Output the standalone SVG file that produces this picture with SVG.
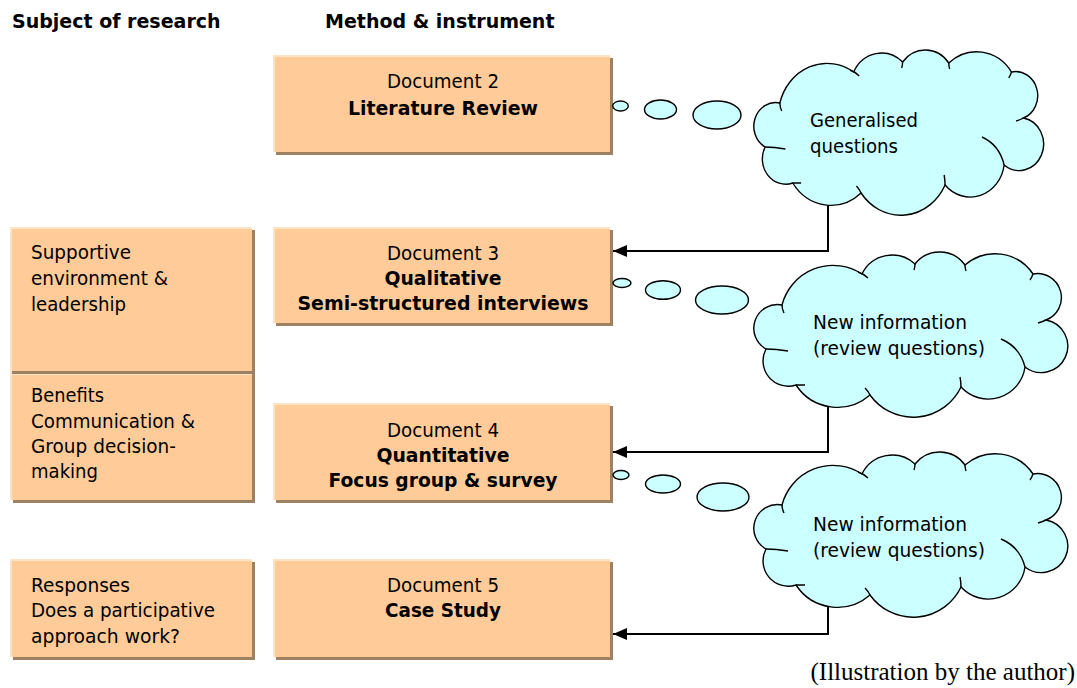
<svg xmlns="http://www.w3.org/2000/svg" xmlns:xlink="http://www.w3.org/1999/xlink" width="1077" height="688" viewBox="0 0 1077 688">
<style>
.box{fill:#FFCC99}
.shd{fill:#9E8062}
.hl{fill:#FFE3C6}
.t{font-family:"DejaVu Sans","Liberation Sans",sans-serif;font-size:20px;fill:#000}
.b{font-weight:bold}
.m{text-anchor:middle}
.h{font-family:"DejaVu Sans","Liberation Sans",sans-serif;font-size:19px;font-weight:bold;fill:#000}
.cl{fill:#CCFFFF;stroke:#000;stroke-width:1.4;vector-effect:non-scaling-stroke}
.cr{fill:none;stroke:#000;stroke-width:1.4;vector-effect:non-scaling-stroke}
.bub{fill:#CCFFFF;stroke:#000;stroke-width:1.4}
.ln{fill:none;stroke:#000;stroke-width:2}
</style>
<defs>
<marker id="ah" viewBox="0 0 14 12" refX="14" refY="6" markerWidth="14" markerHeight="12" markerUnits="userSpaceOnUse" orient="auto">
<path d="M0,0 L14,6 L0,12 z" fill="#000"/>
</marker>
<g id="cloud">
<path class="cl" d="M28,53 A52.8,52.8 0 0 1 108,22 A33.6,33.6 0 0 1 161,12 A31.2,31.2 0 0 1 211,13 A45.7,45.7 0 0 1 279,22 A24,24 0 0 1 292,68 A26.5,26.5 0 1 1 271,115 A37,37 0 0 1 207,135 A53,53 0 0 1 116,143 A49.5,49.5 0 0 1 42,133 A25.3,25.3 0 0 1 12,97 A23.7,23.7 0 0 1 28,53 Z"/>
<path class="cr" d="M28,53 Q28,57 30,61 M104,20 Q110,22 114,26 M161,12 Q161,15 160,18 M211,13 Q211,16 212,19 M279,22 Q278,25 276,28 M292,68 Q288,70 284,71 M247,87 Q266,95 271,115 M207,135 Q207,130 206,125 M116,143 Q114,139 111,136 M42,133 Q47,133 51,133 M12,97 Q22,97 34,99"/>
</g>
</defs>
<rect width="1077" height="688" fill="#fff"/>

<g id="headers">
<text class="h" x="12" y="28">Subject of research</text>
<text class="h" x="325" y="28">Method &amp; instrument</text>
</g>

<g id="subject-supportive-benefits">
<rect class="shd" x="13" y="230" width="242" height="273"/>
<rect class="box" x="10" y="227" width="242" height="273"/>
<path class="hl" d="M10,227 h242 v2 h-240 v271 h-2 z"/>
<rect class="shd" x="12" y="371" width="240" height="3"/>
<rect class="hl" x="12" y="374" width="240" height="1"/>
<text class="t" x="31" y="259" textLength="100" lengthAdjust="spacingAndGlyphs">Supportive</text>
<text class="t" x="31" y="285" textLength="137" lengthAdjust="spacingAndGlyphs">environment &amp;</text>
<text class="t" x="31" y="311" textLength="95" lengthAdjust="spacingAndGlyphs">leadership</text>
<text class="t" x="31" y="402" textLength="73" lengthAdjust="spacingAndGlyphs">Benefits</text>
<text class="t" x="31" y="428" textLength="164" lengthAdjust="spacingAndGlyphs">Communication &amp;</text>
<text class="t" x="31" y="453" textLength="145" lengthAdjust="spacingAndGlyphs">Group decision-</text>
<text class="t" x="31" y="478" textLength="67" lengthAdjust="spacingAndGlyphs">making</text>
</g>

<g id="subject-responses">
<rect class="shd" x="13" y="562" width="242" height="98"/>
<rect class="box" x="10" y="559" width="242" height="98"/>
<path class="hl" d="M10,559 h242 v2 h-240 v96 h-2 z"/>
<text class="t" x="31" y="592" textLength="99" lengthAdjust="spacingAndGlyphs">Responses</text>
<text class="t" x="31" y="617" textLength="184" lengthAdjust="spacingAndGlyphs">Does a participative</text>
<text class="t" x="31" y="643" textLength="149" lengthAdjust="spacingAndGlyphs">approach work?</text>
</g>

<g id="doc2">
<rect class="shd" x="276" y="58" width="337" height="97"/>
<rect class="box" x="273" y="55" width="337" height="97"/>
<path class="hl" d="M273,55 h337 v2 h-335 v95 h-2 z"/>
<text class="t m" x="443" y="88" textLength="112" lengthAdjust="spacingAndGlyphs">Document 2</text>
<text class="t m b" x="443" y="115" textLength="190" lengthAdjust="spacingAndGlyphs">Literature Review</text>
</g>

<g id="doc3">
<rect class="shd" x="276" y="230" width="337" height="96"/>
<rect class="box" x="273" y="227" width="337" height="96"/>
<path class="hl" d="M273,227 h337 v2 h-335 v94 h-2 z"/>
<text class="t m" x="443" y="260" textLength="112" lengthAdjust="spacingAndGlyphs">Document 3</text>
<text class="t m b" x="443" y="285" textLength="117" lengthAdjust="spacingAndGlyphs">Qualitative</text>
<text class="t m b" x="443" y="310" textLength="291" lengthAdjust="spacingAndGlyphs">Semi-structured interviews</text>
</g>

<g id="doc4">
<rect class="shd" x="276" y="406" width="337" height="97"/>
<rect class="box" x="273" y="403" width="337" height="97"/>
<path class="hl" d="M273,403 h337 v2 h-335 v95 h-2 z"/>
<text class="t m" x="443" y="437" textLength="112" lengthAdjust="spacingAndGlyphs">Document 4</text>
<text class="t m b" x="443" y="462" textLength="133" lengthAdjust="spacingAndGlyphs">Quantitative</text>
<text class="t m b" x="443" y="487" textLength="229" lengthAdjust="spacingAndGlyphs">Focus group &amp; survey</text>
</g>

<g id="doc5">
<rect class="shd" x="276" y="562" width="337" height="98"/>
<rect class="box" x="273" y="559" width="337" height="98"/>
<path class="hl" d="M273,559 h337 v2 h-335 v96 h-2 z"/>
<text class="t m" x="443" y="592" textLength="112" lengthAdjust="spacingAndGlyphs">Document 5</text>
<text class="t m b" x="443" y="617" textLength="116" lengthAdjust="spacingAndGlyphs">Case Study</text>
</g>

<g id="connectors">
<path class="ln" d="M828,200 V251 H613" marker-end="url(#ah)"/>
<path class="ln" d="M828,400 V452 H613" marker-end="url(#ah)"/>
<path class="ln" d="M828,605 V634 H613" marker-end="url(#ah)"/>
</g>

<g id="cloud1">
<ellipse class="bub" cx="620.5" cy="106" rx="7.8" ry="5"/>
<ellipse class="bub" cx="660.5" cy="109.5" rx="16" ry="9.5"/>
<ellipse class="bub" cx="717" cy="115" rx="24" ry="14"/>
<use xlink:href="#cloud" href="#cloud" transform="translate(754,50) scale(0.923,1)"/>
<text class="t" x="810" y="127" textLength="108" lengthAdjust="spacingAndGlyphs">Generalised</text>
<text class="t" x="810" y="153" textLength="88" lengthAdjust="spacingAndGlyphs">questions</text>
</g>

<g id="cloud2">
<ellipse class="bub" cx="622" cy="283" rx="9" ry="4.5"/>
<ellipse class="bub" cx="663" cy="290" rx="17.5" ry="9.3"/>
<ellipse class="bub" cx="722" cy="300" rx="26.5" ry="14"/>
<use xlink:href="#cloud" href="#cloud" transform="translate(754,252)"/>
<text class="t" x="813" y="329" textLength="154" lengthAdjust="spacingAndGlyphs">New information</text>
<text class="t" x="813" y="355" textLength="172" lengthAdjust="spacingAndGlyphs">(review questions)</text>
</g>

<g id="cloud3">
<ellipse class="bub" cx="621" cy="475" rx="8" ry="4.5"/>
<ellipse class="bub" cx="663" cy="484" rx="17.5" ry="9"/>
<ellipse class="bub" cx="723" cy="497" rx="26" ry="14"/>
<use xlink:href="#cloud" href="#cloud" transform="translate(754,452)"/>
<text class="t" x="813" y="531" textLength="154" lengthAdjust="spacingAndGlyphs">New information</text>
<text class="t" x="813" y="557" textLength="172" lengthAdjust="spacingAndGlyphs">(review questions)</text>
</g>

<g id="caption">
<text x="1075" y="680" text-anchor="end" font-family="'Liberation Serif','Times New Roman',serif" font-size="25" fill="#000">(Illustration by the author)</text>
</g>
</svg>
